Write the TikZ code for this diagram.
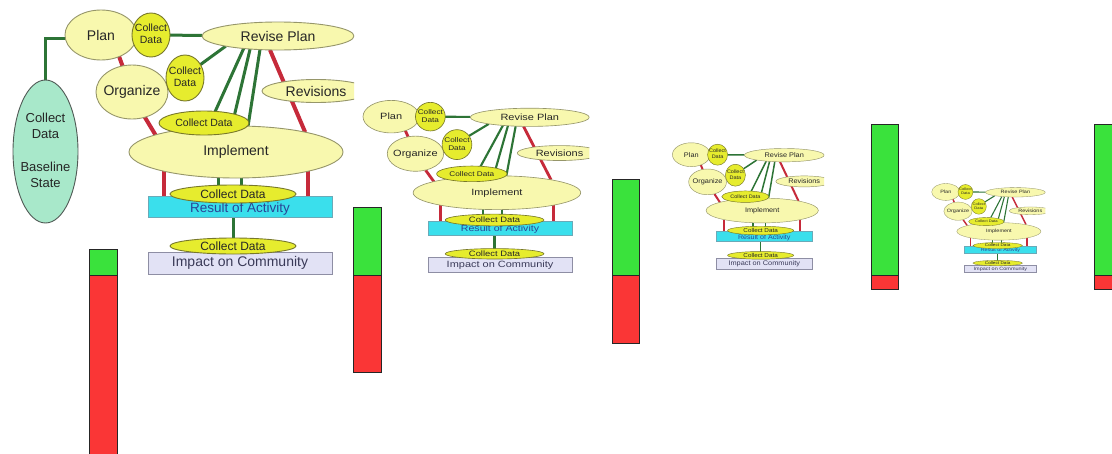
\documentclass[tikz,border=0pt]{standalone}
\usepackage{fontspec}
\setmainfont{Liberation Sans}
\usetikzlibrary{shapes.geometric,backgrounds}

\definecolor{paleYellow}{HTML}{F8F8AE}
\definecolor{paleEdge}{HTML}{96966A}
\definecolor{dataYellow}{HTML}{E6EC2E}
\definecolor{dataEdge}{HTML}{78782A}
\definecolor{linkGreen}{HTML}{2D7436}
\definecolor{linkRed}{HTML}{C62A3A}
\definecolor{resultCyan}{HTML}{3ADFEC}
\definecolor{resultEdge}{HTML}{6AAAB8}
\definecolor{resultText}{HTML}{2A4596}
\definecolor{impactFill}{HTML}{E2E2F5}
\definecolor{impactEdge}{HTML}{8E8EA4}
\definecolor{impactText}{HTML}{3A3A58}
\definecolor{baseFill}{HTML}{A8E8CA}
\definecolor{baseEdge}{HTML}{505A55}
\definecolor{barGreen}{HTML}{3AE23C}
\definecolor{barRed}{HTML}{FA3636}

% line-width factor, reset before each copy of the cycle
\newcommand{\lwf}{1}
% zero-width text so the ellipse keeps its given size
\newcommand{\zw}[1]{\makebox[0pt]{#1}}
\newcommand{\cellstack}[1]{\begin{tabular}{@{}c@{}}#1\end{tabular}}

\tikzset{
  stage/.style={ellipse, draw=paleEdge, fill=paleYellow, line width=0.9pt*\lwf,
    inner sep=0pt, outer sep=0pt, text=black!85, font=\fontsize{14}{16}\selectfont},
  datanode/.style={ellipse, draw=dataEdge, fill=dataYellow, line width=0.9pt*\lwf,
    inner sep=0pt, outer sep=0pt, text=black!85, font=\fontsize{10.5}{12.5}\selectfont},
  resultbox/.style={rectangle, draw=resultEdge, fill=resultCyan, line width=0.8pt*\lwf,
    minimum width=184pt, minimum height=21pt, inner sep=0pt, outer sep=0pt,
    text=resultText, font=\fontsize{13.5}{16}\selectfont},
  impactbox/.style={rectangle, draw=impactEdge, fill=impactFill, line width=0.8pt*\lwf,
    minimum width=184pt, minimum height=22pt, inner sep=0pt, outer sep=0pt,
    text=impactText, font=\fontsize{14}{16}\selectfont},
  basenode/.style={ellipse, draw=baseEdge, fill=baseFill, line width=0.9pt,
    inner sep=0pt, outer sep=0pt, text=black!85, font=\fontsize{13}{16}\selectfont},
  greenlink/.style={draw=linkGreen, line width=3pt*\lwf},
  redlink/.style={draw=linkRed, line width=4pt*\lwf},
  bar/.style={draw=black!85, line width=0.9pt},
}

% One copy of the plan / implement / evaluate cycle; #1 = name prefix
\newcommand{\cyclediagram}[1]{%
  \node[stage, minimum width=72pt, minimum height=50pt] (#1plan) at (-47,239) {Plan};
  \node[datanode, minimum width=38pt, minimum height=44pt] (#1cda) at (3,239) {\zw{\cellstack{Collect\\Data}}};
  \node[stage, minimum width=152pt, minimum height=28pt] (#1revise) at (130,238) {Revise Plan};
  \node[stage, minimum width=72pt, minimum height=54pt] (#1organize) at (-16,182) {\zw{Organize}};
  \node[datanode, minimum width=38pt, minimum height=46pt] (#1cdb) at (37,196) {\zw{\cellstack{Collect\\Data}}};
  \node[stage, minimum width=108pt, minimum height=23pt] (#1revisions) at (168,183) {Revisions};
  \node[stage, minimum width=214pt, minimum height=52pt] (#1implement) at (88,122) {Implement};
  \node[datanode, minimum width=90pt, minimum height=24pt] (#1cdc) at (56,151) {Collect Data};
  \node[resultbox] (#1result) at (92,67.5) {\raisebox{-5.5pt}[0pt][0pt]{Result of Activity}};
  \node[datanode, minimum width=126pt, minimum height=18pt, font=\fontsize{12}{14}\selectfont] (#1cdd) at (85,80) {Collect Data};
  \node[impactbox] (#1impact) at (92,11) {Impact on Community};
  \node[datanode, minimum width=126pt, minimum height=16pt, font=\fontsize{12}{14}\selectfont] (#1cde) at (85,28) {Collect Data};
  \begin{pgfonlayer}{background}
    \draw[greenlink] (#1cda) -- (#1revise);
    \draw[greenlink] (#1revise.191) -- (#1cdb.41);
    \draw[greenlink] (#1revise.200) -- (#1cdc.46);
    \draw[greenlink] (#1revise.205) -- (#1cdc.16);
    \draw[greenlink] (#1revise.217) -- (#1implement.65);
    \draw[redlink] (#1plan.310) -- (#1organize.110);
    \draw[redlink] (#1organize.297) -- (#1implement.168);
    \draw[redlink] (#1revise.240) -- (#1implement.16);
    \draw[redlink] (#1implement.195) -- (#1implement.195 |- #1result.north);
    \draw[redlink] (#1implement.345) -- (#1implement.345 |- #1result.north);
    \draw[greenlink] (#1implement.236) -- (#1implement.236 |- #1cdd.center);
    \draw[greenlink] (#1implement.283) -- (#1implement.283 |- #1cdd.center);
    \draw[greenlink] (#1cde.north |- #1result.south) -- (#1cde.center);
  \end{pgfonlayer}
}

\begin{document}
\begin{tikzpicture}[x=1pt, y=1pt]
  \useasboundingbox (0,0) rectangle (1112,-453);
  \begin{pgfonlayer}{background}
    \fill[white] (0,0) rectangle (1112,-453);
  \end{pgfonlayer}

  % full-size cycle with the baseline measurement
  \begin{scope}[shift={(148,-274)}, transform shape]
    \clip (-140,-4) rectangle (206,280);
    \node[basenode, minimum width=65pt, minimum height=143pt] (d1base) at (-102.5,122.5)
      {\zw{\cellstack{Collect\\Data\\[17pt]Baseline\\State}}};
    \cyclediagram{d1}
    \begin{pgfonlayer}{background}
      \draw[greenlink] (d1plan.185) -| (d1base.north);
    \end{pgfonlayer}
  \end{scope}

  % smaller copies of the cycle
  \def\lwf{0.71}
  \begin{scope}[shift={(428,-272)}, xscale=0.783, yscale=0.65, transform shape]
    \clip (-90,-4) rectangle (206,280);
    \cyclediagram{d2}
  \end{scope}

  \def\lwf{0.5}
  \begin{scope}[shift={(716,-268.7)}, xscale=0.525, yscale=0.477, transform shape]
    \clip (-90,-4) rectangle (206,280);
    \cyclediagram{d3}
  \end{scope}

  \def\lwf{0.36}
  \begin{scope}[shift={(964.3,-272.5)}, xscale=0.393, yscale=0.337, transform shape]
    \clip (-90,-4) rectangle (206,280);
    \cyclediagram{d4}
  \end{scope}

  % progress bars
  \draw[bar, fill=barRed]   (89,-275) rectangle (117,-456);
  \draw[bar, fill=barGreen] (89,-249) rectangle (117,-275);

  \draw[bar, fill=barRed]   (353,-275) rectangle (381,-372);
  \draw[bar, fill=barGreen] (353,-207) rectangle (381,-275);

  \draw[bar, fill=barRed]   (612,-275) rectangle (639,-343);
  \draw[bar, fill=barGreen] (612,-179) rectangle (639,-275);

  \draw[bar, fill=barRed]   (871,-275) rectangle (898,-289);
  \draw[bar, fill=barGreen] (871,-124) rectangle (898,-275);

  \draw[bar, fill=barRed]   (1094,-275) rectangle (1116,-289);
  \draw[bar, fill=barGreen] (1094,-124) rectangle (1116,-275);
\end{tikzpicture}
\end{document}
